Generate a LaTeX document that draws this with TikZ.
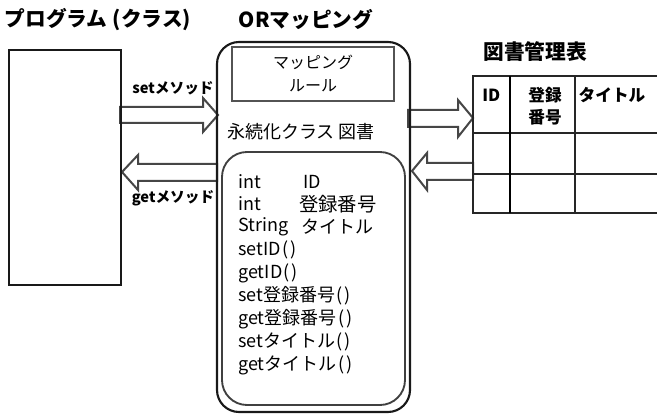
\documentclass[tikz,border=0pt]{standalone}
\usepackage{fontspec}
\setmainfont{Noto Sans CJK JP}
\begin{document}
\begin{tikzpicture}[x=0.75pt,y=-0.75pt,
  title/.style={font=\fontsize{15.5}{18}\selectfont\bfseries, inner sep=0pt},
  lbl/.style={font=\fontsize{11}{13}\selectfont\bfseries, inner sep=0pt},
  item/.style={font=\fontsize{13.5}{16}\selectfont, inner sep=0pt, anchor=west},
  item2/.style={font=\fontsize{14.5}{16}\selectfont, inner sep=0pt, anchor=west},
  hdr/.style={font=\fontsize{12.5}{15}\selectfont\bfseries, inner sep=0pt},
  blockarrow/.style={draw=gray!55!black, line width=1.5pt, fill=white, line join=miter},
  tline/.style={draw=black!85, line width=1.3pt}]
\useasboundingbox (0,0) rectangle (657,417);

% block arrows
\draw[blockarrow] (120,107) -- (203,107) -- (203,98) -- (218,115) -- (203,132) -- (203,123) -- (120,123) -- cycle;
\draw[blockarrow] (217,164) -- (138,164) -- (138,155) -- (122,172) -- (138,190) -- (138,181) -- (217,181) -- cycle;
\draw[blockarrow] (408,110) -- (458,110) -- (458,100) -- (473,118) -- (458,137) -- (458,127) -- (408,127) -- cycle;
\draw[blockarrow] (473,163) -- (427,163) -- (427,153) -- (412,171) -- (427,190) -- (427,180) -- (473,180) -- cycle;

% titles
\node[title] (tprog) at (98,20) {プログラム\kern4pt(クラス)};
\node[title] (tor) at (306,20) {ORマッピング};
\node[title] (ttab) at (535,52) {図書管理表};

% program box
\node[draw=black!90, line width=2pt, minimum width=84pt, minimum height=176.25pt, inner sep=0pt] (prog) at (65,167.5) {};

% OR mapping outer box
\node[draw=black!90, line width=1.6pt, rounded corners=16.5pt, minimum width=144.75pt, minimum height=277.5pt, inner sep=0pt] (orbox) at (313.5,227) {};
% mapping rule box
\node[draw=gray!65!black, line width=1.5pt, minimum width=121.5pt, minimum height=40.5pt, inner sep=0pt] (rule) at (313,74) {};
\node[font=\fontsize{12}{14}\selectfont, inner sep=0pt] (rule1) at (313,62) {マッピング};
\node[font=\fontsize{12}{14}\selectfont, inner sep=0pt] (rule2) at (313,86) {ルール};

\node[font=\fontsize{13.5}{16}\selectfont, inner sep=0pt, anchor=west] (pclass) at (227,132) {永続化クラス 図書};

% inner class box
\node[draw=gray!50!black, line width=1.4pt, rounded corners=18.75pt, minimum width=137.25pt, minimum height=189.75pt, inner sep=0pt] (cls) at (313.5,278.5) {};

\node[item] (i1) at (238,182) {int};
\node[item] (i1b) at (303,182) {ID};
\node[item] (i2) at (238,204) {int};
\node[item2] (i2b) at (299,204) {登録番号};
\node[item] (i3) at (238,227) {String};
\node[item] (i3b) at (301,227) {タイトル};
\node[item] (i4) at (238,250) {setID\kern1pt(\kern1.5pt)};
\node[item] (i5) at (238,273) {getID\kern1pt(\kern1.5pt)};
\node[item] (i6) at (238,296) {set登録番号\kern1pt(\kern1.5pt)};
\node[item] (i7) at (238,319) {get登録番号\kern1pt(\kern1.5pt)};
\node[item] (i8) at (238,342) {setタイトル\kern1pt(\kern1.5pt)};
\node[item] (i9) at (238,365) {getタイトル\kern1pt(\kern1.5pt)};

% arrow labels
\node[lbl] (lset) at (173,88) {setメソッド};
\node[lbl] (lget) at (173,198) {getメソッド};

% table
\coordinate (tl) at (473,76);
\coordinate (tr) at (657,76);
\coordinate (bl) at (473,213);
\coordinate (br) at (657,213);
\draw[tline] (tr) -- (tl) -- (bl) -- (br);
\draw[tline] (473,133) -- (657,133);
\draw[tline] (473,174) -- (657,174);
\draw[draw=black, line width=2.2pt] (510,76) -- (510,213);
\draw[tline] (575,76) -- (575,213);
\node[hdr, anchor=west] (hid) at (482,95) {ID};
\node[hdr] (hno1) at (545,95) {登録};
\node[hdr] (hno2) at (545,117) {番号};
\node[hdr] (htit) at (612,95) {タイトル};
\end{tikzpicture}
\end{document}
